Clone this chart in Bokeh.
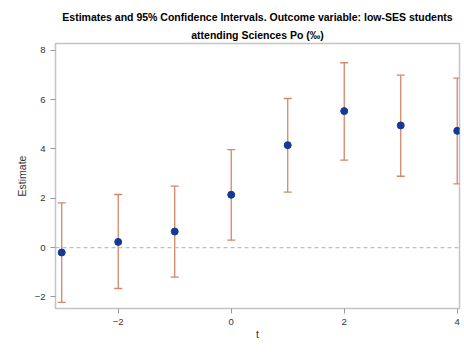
from bokeh.plotting import figure
from bokeh.models import ColumnDataSource, Whisker, TeeHead, Span, FixedTicker, Range1d, Title
from bokeh.embed import file_html
from bokeh.resources import INLINE

t = [-3, -2, -1, 0, 1, 2, 3, 4]
estimate = [-0.20, 0.23, 0.65, 2.14, 4.15, 5.53, 4.95, 4.73]
lower = [-2.22, -1.66, -1.20, 0.30, 2.25, 3.54, 2.89, 2.58]
upper = [1.81, 2.15, 2.49, 3.97, 6.04, 7.49, 6.99, 6.87]

x_ticks = [-2, 0, 2, 4]
y_ticks = [-2, 0, 2, 4, 6, 8]

title_line1 = "Estimates and 95% Confidence Intervals. Outcome variable: low-SES students"
title_line2 = "attending Sciences Po (\u2030)"

src = ColumnDataSource(dict(t=t, est=estimate, lo=lower, hi=upper))

p = figure(width=464, height=352, output_backend="svg", toolbar_location=None,
           x_range=Range1d(-3.11, 4.04), y_range=Range1d(-2.47, 8.27),
           min_border_left=55, min_border_right=5, min_border_top=43, min_border_bottom=44)

p.title.text = title_line1
p.title.align = "center"
p.title.text_font = "Liberation Sans"
p.title.text_font_style = "bold"
p.title.text_font_size = "10.5px"
p.title.text_color = "#000000"
p.title.standoff = 1

t2 = Title(text=title_line2, align="center", text_font="Liberation Sans",
           text_font_style="bold", text_font_size="10.5px", text_color="#000000", standoff=6)
p.add_layout(t2, "above")

p.outline_line_color = "#c4c4c4"
p.outline_line_width = 1.5
p.xgrid.visible = False
p.ygrid.visible = False
p.background_fill_color = "white"
p.border_fill_color = "white"

for ax in (p.xaxis[0], p.yaxis[0]):
    ax.axis_line_color = None
    ax.major_tick_line_color = "#9a9a9a"
    ax.major_tick_out = 5
    ax.major_tick_in = 0
    ax.minor_tick_line_color = None
    ax.major_label_text_font = "Liberation Sans"
    ax.major_label_text_font_size = "9.5px"
    ax.major_label_text_color = "#333333"
    ax.axis_label_text_font = "Liberation Sans"
    ax.axis_label_text_font_size = "10.5px"
    ax.axis_label_text_font_style = "normal"
    ax.axis_label_text_color = "#333333"

p.xaxis.ticker = FixedTicker(ticks=x_ticks)
p.yaxis.ticker = FixedTicker(ticks=y_ticks)
p.xaxis.axis_label = "t"
p.yaxis.axis_label = "Estimate"
p.yaxis.major_label_orientation = "horizontal"
p.yaxis.axis_label_standoff = 4
p.xaxis.axis_label_standoff = 0

p.add_layout(Span(location=0, dimension="width", line_color="#c0c0c0",
                  line_dash="4 3", line_width=1.2))

err_color = "#d4876a"
w = Whisker(base="t", upper="hi", lower="lo", source=src, line_color=err_color, line_width=1.3,
            upper_head=TeeHead(size=8, line_color=err_color, line_width=1.3),
            lower_head=TeeHead(size=8, line_color=err_color, line_width=1.3))
p.add_layout(w)

p.scatter("t", "est", source=src, size=7, fill_color="#133a96", line_color="#133a96")

open("out.html", "w").write(file_html(p, INLINE))
